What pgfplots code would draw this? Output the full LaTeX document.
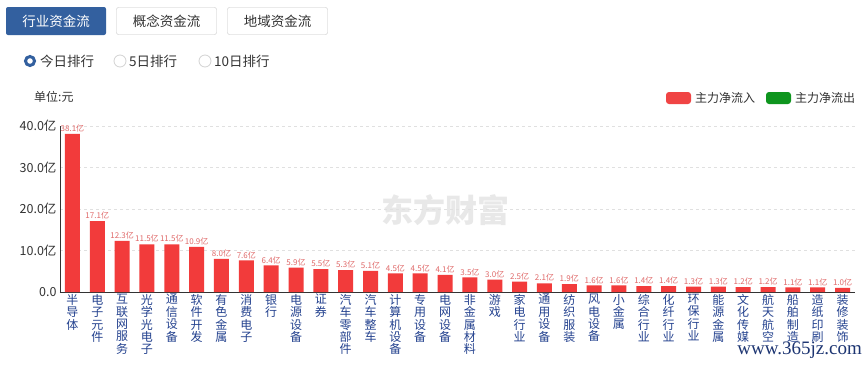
\documentclass[border=0pt]{standalone}
\usepackage{pgfplots}
\pgfplotsset{compat=1.18}
\usepackage{fontspec}
\setmainfont{Noto Sans CJK SC}
\newfontfamily\wfont{Liberation Serif}
\definecolor{barred}{HTML}{F23B3B}
\definecolor{lblred}{HTML}{E06A6A}
\definecolor{legred}{HTML}{F04444}
\definecolor{leggreen}{HTML}{0E951E}
\definecolor{catblue}{HTML}{24428F}
\definecolor{btnblue}{HTML}{33609F}
\definecolor{txtgray}{HTML}{333333}
\begin{document}
\begin{tikzpicture}
\begin{scope}[x=1pt,y=1pt]
\path[use as bounding box,fill=white] (0,0) rectangle (868,-365);
% buttons
\fill[btnblue,rounded corners=2pt] (6,-7) rectangle (106,-35);
\node[white,font=\fontsize{13.5}{14}\selectfont] at (56,-21) {行业资金流};
\draw[gray!45,rounded corners=2pt,fill=white] (116.5,-7.5) rectangle (216.5,-34.5);
\node[txtgray,font=\fontsize{13.5}{14}\selectfont] at (166.5,-21) {概念资金流};
\draw[gray!45,rounded corners=2pt,fill=white] (227.5,-7.5) rectangle (327.5,-34.5);
\node[txtgray,font=\fontsize{13.5}{14}\selectfont] at (277.5,-21) {地域资金流};
% radios
\draw[btnblue,line width=3pt] (30,-61) circle (4.5);
\node[txtgray,anchor=west,font=\fontsize{13.5}{14}\selectfont,inner sep=0] at (40,-61) {今日排行};
\draw[gray!35,line width=0.8pt] (120,-61) circle (6);
\node[txtgray,anchor=west,font=\fontsize{13.5}{14}\selectfont,inner sep=0] at (129,-61) {5日排行};
\draw[gray!35,line width=0.8pt] (205,-61) circle (6);
\node[txtgray,anchor=west,font=\fontsize{13.5}{14}\selectfont,inner sep=0] at (214,-61) {10日排行};
% unit
\node[txtgray,anchor=west,font=\fontsize{12}{12}\selectfont,inner sep=0] at (34,-97) {单位:元};
% legend
\fill[legred,rounded corners=3pt] (666,-92) rectangle (691,-104);
\node[txtgray,anchor=west,font=\fontsize{12}{12}\selectfont,inner sep=0] at (695,-98) {主力净流入};
\fill[leggreen,rounded corners=3pt] (766,-92) rectangle (791,-104);
\node[txtgray,anchor=west,font=\fontsize{12}{12}\selectfont,inner sep=0] at (795,-98) {主力净流出};
% watermark
\node[black!9,font=\bfseries\fontsize{32}{32}\selectfont] at (445,-210) {东方财富};
\end{scope}
\begin{axis}[
  at={(60pt,-292pt)}, anchor=south west,
  scale only axis, width=795pt, height=166pt,
  xmin=-0.5, xmax=31.5, ymin=0, ymax=40,
  axis x line*=bottom, axis y line*=left,
  axis line style={txtgray, line width=0.8pt},
  xtick=data, major tick length=0pt,
  ytick={0,10,20,30,40},
  yticklabels={0.0,10.0亿,20.0亿,30.0亿,40.0亿},
  yticklabel style={txtgray,font=\fontsize{12.5}{12.5}\selectfont},
  ymajorgrids, grid style={black!12, dashed, line width=0.5pt},
  xticklabels={{半\\导\\体},{电\\子\\元\\件},{互\\联\\网\\服\\务},{光\\学\\光\\电\\子},{通\\信\\设\\备},{软\\件\\开\\发},{有\\色\\金\\属},{消\\费\\电\\子},{银\\行},{电\\源\\设\\备},{证\\券},{汽\\车\\零\\部\\件},{汽\\车\\整\\车},{计\\算\\机\\设\\备},{专\\用\\设\\备},{电\\网\\设\\备},{非\\金\\属\\材\\料},{游\\戏},{家\\电\\行\\业},{通\\用\\设\\备},{纺\\织\\服\\装},{风\\电\\设\\备},{小\\金\\属},{综\\合\\行\\业},{化\\纤\\行\\业},{环\\保\\行\\业},{能\\源\\金\\属},{文\\化\\传\\媒},{航\\天\\航\\空},{船\\舶\\制\\造},{造\\纸\\印\\刷},{装\\修\\装\\饰}},
  xticklabel style={align=center, text=catblue, anchor=north, font=\fontsize{12}{12.4}\selectfont, inner sep=2pt},
  point meta=explicit symbolic,
  nodes near coords, nodes near coords style={lblred, font=\fontsize{8}{8}\selectfont, inner sep=1.5pt},
  clip=false,
]
\addplot[ybar, bar width=15pt, fill=barred, draw=none] coordinates {
(0,38.1)[38.1亿] (1,17.1)[17.1亿] (2,12.3)[12.3亿] (3,11.5)[11.5亿] (4,11.5)[11.5亿]
(5,10.9)[10.9亿] (6,8.0)[8.0亿] (7,7.6)[7.6亿] (8,6.4)[6.4亿] (9,5.9)[5.9亿]
(10,5.5)[5.5亿] (11,5.3)[5.3亿] (12,5.1)[5.1亿] (13,4.5)[4.5亿] (14,4.5)[4.5亿]
(15,4.1)[4.1亿] (16,3.5)[3.5亿] (17,3.0)[3.0亿] (18,2.5)[2.5亿] (19,2.1)[2.1亿]
(20,1.9)[1.9亿] (21,1.6)[1.6亿] (22,1.6)[1.6亿] (23,1.4)[1.4亿] (24,1.4)[1.4亿]
(25,1.3)[1.3亿] (26,1.3)[1.3亿] (27,1.2)[1.2亿] (28,1.2)[1.2亿] (29,1.1)[1.1亿]
(30,1.1)[1.1亿] (31,1.0)[1.0亿]
};
\end{axis}
\node[catblue!80!black,anchor=east,font=\wfont\fontsize{19}{19}\selectfont,inner sep=0] at (862pt,-350pt) {www.365jz.com};
\end{tikzpicture}
\end{document}
